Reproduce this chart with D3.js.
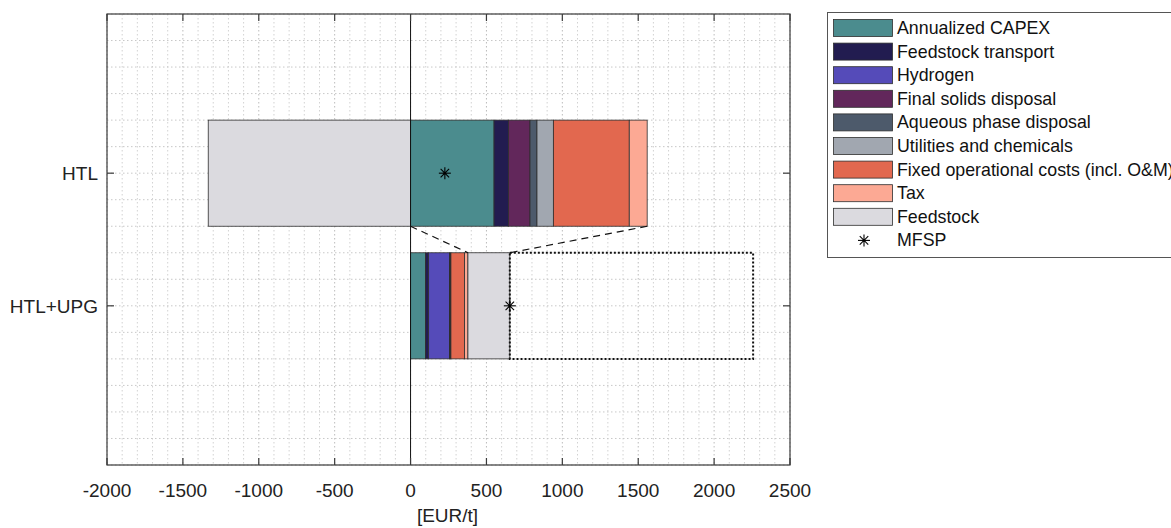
<!DOCTYPE html>
<html>
<head>
<meta charset="utf-8">
<script src="https://cdn.jsdelivr.net/npm/d3@7"></script>
<style>
  body { margin: 0; background: #fff; }
  svg { font-family: "Liberation Sans", Arial, sans-serif; }
</style>
</head>
<body>
<svg class="chart"></svg>
<script>
const size = {w: 1171, h: 528};

// categories shown on the y axis (top to bottom)
const categories = ['HTL', 'HTL+UPG'];

// cost components, in stacking order
const costNames = ['Annualized CAPEX', 'Feedstock transport', 'Hydrogen', 'Final solids disposal',
    'Aqueous phase disposal', 'Utilities and chemicals', 'Fixed operational costs (incl. O&M)',
    'Tax', 'Feedstock'];
const costColors = ['#4b8c8e', '#221c50', '#554bb9', '#62275b', '#4d5a6b', '#a1a7b0',
    '#e2684f', '#fca994', '#dbdadf'];

// values in EUR/t, one per cost component
const htlValues = [550, 95, 0, 142, 46, 108, 500, 118, -1333];
const upgValues = [99, 20, 138, 0, 4, 5, 90, 22, 276];

// end of the dotted box next to the HTL+UPG bar
const upgBoxEnd = 2257;

const xTicks = [-2000, -1500, -1000, -500, 0, 500, 1000, 1500, 2000, 2500];

const plot = {left: 107, right: 790, top: 14, bottom: 465};

const svg = d3.select('svg.chart')
    .attr('width', size.w)
    .attr('height', size.h);

const x = d3.scaleLinear().domain([-2000, 2500]).range([plot.left, plot.right]);
const y = d3.scaleLinear().domain([-0.2, 3.2]).range([plot.top, plot.bottom]);
const barH = 0.8;

// --------- GRID ----------
const gridG = svg.append('g');
d3.range(-2000, 2501, 100).forEach(v => {
    gridG.append('line')
        .attr('x1', x(v)).attr('x2', x(v))
        .attr('y1', plot.top).attr('y2', plot.bottom)
        .attr('stroke', v % 500 === 0 ? '#bcbcbc' : '#d2d2d2')
        .attr('stroke-dasharray', '1.5,2.5');
});
d3.range(-0.2, 3.21, 0.2).forEach(v => {
    gridG.append('line')
        .attr('x1', plot.left).attr('x2', plot.right)
        .attr('y1', y(v)).attr('y2', y(v))
        .attr('stroke', '#c8c8c8')
        .attr('stroke-dasharray', '1.5,2.5');
});

// --------- STACKED BARS ----------
function stackRow(values, cat) {
    let pos = 0, neg = 0;
    return values.map((v, i) => {
        let x0, x1;
        if (v >= 0) { x0 = pos; x1 = pos + v; pos = x1; }
        else { x0 = neg + v; x1 = neg; neg = x0; }
        return {cat, name: costNames[i], color: costColors[i], x0, x1, v};
    }).filter(d => d.v !== 0);
}

const rows = [stackRow(htlValues, 1), stackRow(upgValues, 2)];
const barsG = svg.append('g');
rows.forEach(segs => {
    barsG.selectAll(null)
        .data(segs)
        .join('rect')
        .attr('x', d => x(d.x0))
        .attr('width', d => x(d.x1) - x(d.x0))
        .attr('y', d => y(d.cat - barH / 2))
        .attr('height', d => y(d.cat + barH / 2) - y(d.cat - barH / 2))
        .attr('fill', d => d.color)
        .attr('stroke', '#2e2e2e')
        .attr('stroke-width', 0.8);
});

// totals
const htlPos = d3.sum(htlValues.filter(v => v > 0));
const upgTotal = d3.sum(upgValues);
const upgBeforeFeed = d3.sum(upgValues.slice(0, 8));
const mfsp = [d3.sum(htlValues), upgTotal];

// dotted box
svg.append('rect')
    .attr('x', x(upgTotal))
    .attr('width', x(upgBoxEnd) - x(upgTotal))
    .attr('y', y(2 - barH / 2))
    .attr('height', y(2 + barH / 2) - y(2 - barH / 2))
    .attr('fill', 'none')
    .attr('stroke', '#111')
    .attr('stroke-width', 2)
    .attr('stroke-dasharray', '2,2');

// dashed connecting lines
[[0, upgBeforeFeed], [htlPos, upgTotal]].forEach(p => {
    svg.append('line')
        .attr('x1', x(p[0])).attr('y1', y(1 + barH / 2))
        .attr('x2', x(p[1])).attr('y2', y(2 - barH / 2))
        .attr('stroke', '#111')
        .attr('stroke-width', 1.2)
        .attr('stroke-dasharray', '7,5');
});

// zero line
svg.append('line')
    .attr('x1', x(0)).attr('x2', x(0))
    .attr('y1', plot.top).attr('y2', plot.bottom)
    .attr('stroke', '#111').attr('stroke-width', 1);

// MFSP markers
function star(g, cx, cy, r) {
    const s = g.append('g').attr('transform', `translate(${cx},${cy})`);
    [0, 45, 90, 135].forEach(a => {
        const rad = a * Math.PI / 180;
        s.append('line')
            .attr('x1', -r * Math.cos(rad)).attr('y1', -r * Math.sin(rad))
            .attr('x2', r * Math.cos(rad)).attr('y2', r * Math.sin(rad))
            .attr('stroke', '#000').attr('stroke-width', 1.1);
    });
    s.append('circle').attr('r', 1.4).attr('fill', '#000');
}
mfsp.forEach((m, i) => star(svg, x(m), y(i + 1), 6));

// --------- AXES ----------
const frame = svg.append('g');
frame.append('rect')
    .attr('x', plot.left).attr('y', plot.top)
    .attr('width', plot.right - plot.left).attr('height', plot.bottom - plot.top)
    .attr('fill', 'none').attr('stroke', '#3a3a3a').attr('stroke-width', 1.2);

xTicks.forEach(t => {
    frame.append('line').attr('x1', x(t)).attr('x2', x(t))
        .attr('y1', plot.bottom).attr('y2', plot.bottom - 7)
        .attr('stroke', '#3a3a3a').attr('stroke-width', 1.2);
    frame.append('line').attr('x1', x(t)).attr('x2', x(t))
        .attr('y1', plot.top).attr('y2', plot.top + 7)
        .attr('stroke', '#3a3a3a').attr('stroke-width', 1.2);
    frame.append('text')
        .attr('x', x(t)).attr('y', 497)
        .attr('text-anchor', 'middle')
        .attr('font-size', 19).attr('fill', '#222')
        .text(t);
});

categories.forEach((c, i) => {
    const yy = y(i + 1);
    frame.append('line').attr('x1', plot.left).attr('x2', plot.left + 7)
        .attr('y1', yy).attr('y2', yy).attr('stroke', '#3a3a3a').attr('stroke-width', 1.2);
    frame.append('line').attr('x1', plot.right).attr('x2', plot.right - 7)
        .attr('y1', yy).attr('y2', yy).attr('stroke', '#3a3a3a').attr('stroke-width', 1.2);
    frame.append('text')
        .attr('x', 98).attr('y', yy + 7)
        .attr('text-anchor', 'end')
        .attr('font-size', 19).attr('fill', '#222')
        .text(c);
});

svg.append('text')
    .attr('x', (x(0) + x(500)) / 2 - 1).attr('y', 522)
    .attr('text-anchor', 'middle')
    .attr('font-size', 19).attr('fill', '#222')
    .text('[EUR/t]');

// --------- LEGEND ----------
const legG = svg.append('g');
legG.append('rect')
    .attr('x', 827.5).attr('y', 12.5)
    .attr('width', 360).attr('height', 245)
    .attr('fill', '#fff').attr('stroke', '#555').attr('stroke-width', 1);

const legItems = costNames.concat(['MFSP']);
legItems.forEach((name, i) => {
    const cy = 28 + i * 23.6;
    if (i < costNames.length) {
        legG.append('rect')
            .attr('x', 833.5).attr('y', cy - 8.5)
            .attr('width', 59).attr('height', 17)
            .attr('fill', costColors[i])
            .attr('stroke', '#2e2e2e').attr('stroke-width', 0.8);
    } else {
        star(legG, 864, cy, 6);
    }
    legG.append('text')
        .attr('x', 897).attr('y', cy + 6)
        .attr('font-size', 17.8).attr('fill', '#111')
        .text(name);
});
</script>
</body>
</html>
